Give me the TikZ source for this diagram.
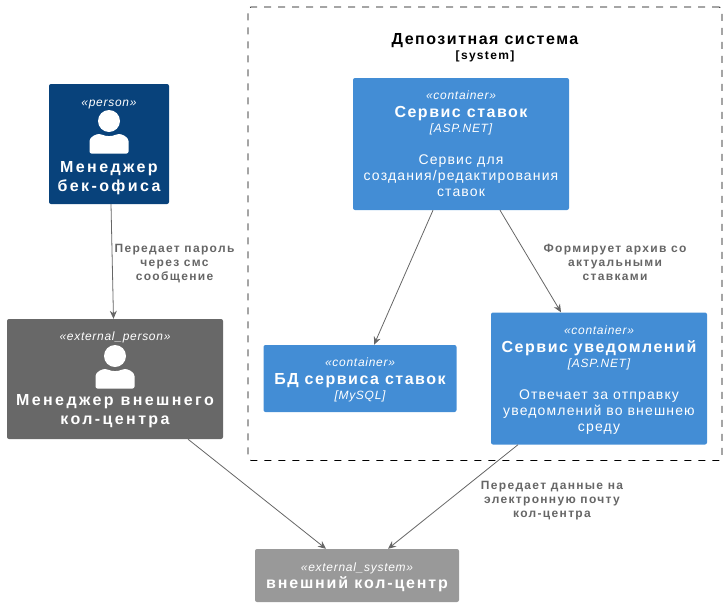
\documentclass[tikz,border=0pt]{standalone}
\usepackage{fontspec}
\setmainfont{Liberation Sans}
\newfontfamily\tagfont[LetterSpace=6]{Liberation Sans}
\newfontfamily\namefont[LetterSpace=9.5]{Liberation Sans}
\newfontfamily\personfont[LetterSpace=15]{Liberation Sans}
\newfontfamily\sysfont[LetterSpace=11.5]{Liberation Sans}
\newfontfamily\descfont[LetterSpace=8.2]{Liberation Sans}
\newfontfamily\edgefont[LetterSpace=11]{Liberation Sans}
\usetikzlibrary{arrows.meta, positioning}
\definecolor{personblue}{HTML}{08427B}
\definecolor{extperson}{HTML}{686868}
\definecolor{containerblue}{HTML}{438DD5}
\definecolor{extsystem}{HTML}{999999}
\definecolor{linegray}{HTML}{666666}
\newcommand{\tagline}[1]{{\tagfont\itshape\fontsize{12}{16}\selectfont #1}}
\newcommand{\nameline}[1]{{\namefont\bfseries\fontsize{16}{16}\selectfont #1}}
\newcommand{\personline}[1]{{\personfont\bfseries\fontsize{16}{16}\selectfont #1}}
\newcommand{\sysline}[1]{{\sysfont\bfseries\fontsize{16}{16}\selectfont #1}}
\newcommand{\descline}[1]{{\descfont\fontsize{14}{16}\selectfont #1}}
\newcommand{\topgap}[1]{\rule{0pt}{#1}}

\begin{document}
\begin{tikzpicture}[x=1pt, y=-1pt]
        % --- estilos ---
        \tikzstyle{box} = [
            rectangle,
            rounded corners=2pt,
            inner sep=0pt,
            align=center,
            text=white,
            font=\fontsize{12}{16}\selectfont
        ]
        \tikzstyle{edgetext} = [
            align=center,
            text=linegray,
            font=\edgefont\bfseries\fontsize{12}{14}\selectfont
        ]
        \tikzstyle{arrow} = [draw=linegray, line width=0.8pt, -{Stealth[length=8pt, width=7pt]}]
        \tikzset{
            personicon/.pic={
                \fill[white] (0,-23) circle (11);
                \fill[white, rounded corners=2pt] (-19.5,9.5) -- (-19.5,-1) .. controls (-19.5,-7) and (-13,-10) .. (-8,-10)
                    .. controls (-3,-7.5) and (3,-7.5) .. (8,-10) .. controls (13,-10) and (19.5,-7) .. (19.5,-1) -- (19.5,9.5) -- cycle;
            }
        }
        \useasboundingbox (0,0) rectangle (727,608);

        % --- fronteira ---
        \node (boundary) [rectangle, rounded corners=3pt, draw=black, dash pattern=on 7pt off 7pt, line width=0.8pt,
            minimum width=474pt, minimum height=453.5pt, inner sep=0pt] at (485,233.75) {};
        \node (boundarytitle) [align=center, inner sep=0pt, font=\fontsize{12}{15}\selectfont] at (485,47.5) {\nameline{Депозитная система}\\{\edgefont\bfseries\fontsize{12}{14}\selectfont [system]}};

        % --- nós ---
        \node (mgr) [box, fill=personblue, minimum width=120pt, minimum height=120pt] at (109,144) {\topgap{12.7pt}\tagline{«person»}\\[50pt]\personline{Менеджер}\\[3pt]\personline{бек-офиса}};
        \node (extmgr) [box, fill=extperson, minimum width=216pt, minimum height=120pt] at (115,379) {\topgap{10pt}\tagline{«external\_person»}\\[49pt]\personline{Менеджер внешнего}\\[3pt]\personline{кол-центра}};
        \node (rates) [box, fill=containerblue, minimum width=216pt, minimum height=132pt] at (461,144) {\tagline{«container»}\\[2pt]\nameline{Сервис ставок}\\[-1pt]\tagline{[ASP.NET]}\\[16pt]\descline{Сервис для}\\\descline{создания/редактирования}\\\descline{ставок}};
        \node (ratesdb) [box, fill=containerblue, minimum width=193pt, minimum height=67pt] at (360,378.5) {\topgap{10.7pt}\tagline{«container»}\\[2pt]\nameline{БД сервиса ставок}\\[-1pt]\tagline{[MySQL]}};
        \node (notify) [box, fill=containerblue, minimum width=216pt, minimum height=132pt] at (599,378.5) {\topgap{12.7pt}\tagline{«container»}\\[2pt]\nameline{Сервис уведомлений}\\[-1pt]\tagline{[ASP.NET]}\\[16pt]\descline{Отвечает за отправку}\\\descline{уведомлений во внешнею}\\\descline{среду}};
        \node (callcenter) [box, fill=extsystem, minimum width=204pt, minimum height=53pt] at (357,575.5) {\topgap{11.7pt}\tagline{«external\_system»}\\[1pt]\sysline{внешний кол-центр}};

        \pic at (mgr.center) {personicon};
        \pic at (extmgr.center) {personicon};

        % --- conexões ---
        \draw [arrow] ([xshift=2pt]mgr.south) -- ([xshift=-1.5pt]extmgr.north);
        \draw [arrow] ([xshift=-28pt]rates.south) -- ([xshift=14pt]ratesdb.north);
        \draw [arrow] ([xshift=39pt]rates.south) -- ([xshift=-38pt]notify.north);
        \draw [arrow] ([xshift=73pt]extmgr.south) -- ([xshift=-31pt]callcenter.north);
        \draw [arrow] ([xshift=-81pt]notify.south) -- ([xshift=31pt]callcenter.north);

        % --- rótulos ---
        \node (passlabel) [edgetext] at (174.5,264) {Передает пароль\\через смс\\сообщение};
        \node (archivelabel) [edgetext] at (615,262) {Формирует архив со\\актуальными\\ставками};
        \node (maillabel) [edgetext] at (552,500.5) {Передает данные на\\электронную почту\\кол-центра};
    \end{tikzpicture}
\end{document}
